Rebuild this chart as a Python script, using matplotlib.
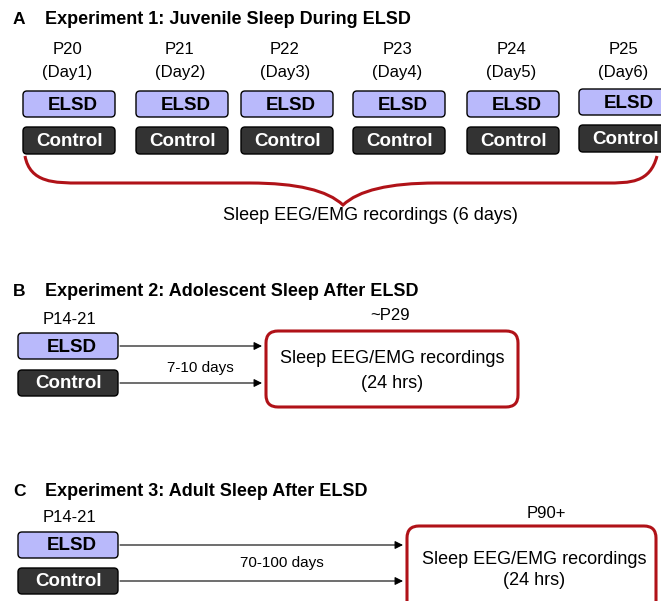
import matplotlib.pyplot as plt
from matplotlib.patches import FancyBboxPatch, PathPatch
from matplotlib.path import Path

plt.rcParams['font.family'] = ['Liberation Sans', 'DejaVu Sans']

# text content
panel_letters = ['A', 'B', 'C']
panel_titles = ['Experiment 1: Juvenile Sleep During ELSD',
                'Experiment 2: Adolescent Sleep After ELSD',
                'Experiment 3: Adult Sleep After ELSD']
exp1_ages = ['P20', 'P21', 'P22', 'P23', 'P24', 'P25']
exp1_days = ['(Day1)', '(Day2)', '(Day3)', '(Day4)', '(Day5)', '(Day6)']
groups = ['ELSD', 'Control']
exp1_note = 'Sleep EEG/EMG recordings (6 days)'
start_age = 'P14-21'
rec_ages = ['~P29', 'P90+']
gaps = ['7-10 days', '70-100 days']
rec_text = 'Sleep EEG/EMG recordings\n(24 hrs)'

ELSD_FILL = '#b9b9fb'
CTRL_FILL = '#333333'
RED = '#b01218'

fig = plt.figure(figsize=(6.61, 6.01), dpi=100)
ax = fig.add_axes([0, 0, 1, 1])
ax.set_xlim(0, 661)
ax.set_ylim(601, 0)
ax.axis('off')


def group_box(x0, y0, w, h, label):
    fill = ELSD_FILL if label == 'ELSD' else CTRL_FILL
    tcol = 'black' if label == 'ELSD' else 'white'
    ax.add_patch(FancyBboxPatch((x0, y0), w, h, boxstyle='round,pad=0,rounding_size=4',
                                fc=fill, ec='black', lw=1.0))
    dx = 4 if label == 'ELSD' else 1
    ax.text(x0 + w / 2 + dx, y0 + h / 2 + 1, label, ha='center', va='center',
            fontsize=13.5, fontweight='bold', color=tcol)


def title(y, i):
    ax.text(13, y, panel_letters[i], fontsize=12.5, fontweight='bold',
            va='center', ha='left')
    ax.text(45, y, panel_titles[i], fontsize=13, fontweight='bold', va='center', ha='left')


# ---- Panel A
title(20, 0)
col_x = [23, 136, 241, 353, 467, 579]
box_w = 92
for i, (age, day) in enumerate(zip(exp1_ages, exp1_days)):
    cx = col_x[i] + box_w / 2 - 2
    ax.text(cx, 50, age, ha='center', va='center', fontsize=12)
    ax.text(cx, 72, day, ha='center', va='center', fontsize=12)
    dy = -2 if i == 5 else 0
    group_box(col_x[i], 91 + dy, box_w, 26, groups[0])
    group_box(col_x[i], 127 + dy, box_w, 27, groups[1])

# curly brace
brace = Path([(25, 156), (30, 183), (55, 183), (80, 183),
              (250, 183), (320, 183), (343, 205),
              (366, 183), (436, 183), (606, 183),
              (630, 183), (650, 183), (657, 156)],
             [Path.MOVETO, Path.CURVE4, Path.CURVE4, Path.CURVE4,
              Path.LINETO, Path.CURVE3, Path.CURVE3,
              Path.CURVE3, Path.CURVE3, Path.LINETO,
              Path.CURVE4, Path.CURVE4, Path.CURVE4])
ax.add_patch(PathPatch(brace, fc='none', ec=RED, lw=2.2))
ax.text(370, 216, exp1_note, ha='center', va='center', fontsize=13)

# ---- Panels B and C
layouts = [
    dict(ty=292, age_y=320, ey=333, cy=370, ax_end=262, gap_x=200, gap_y=368,
         rx=266, ry=331, rw=252, rh=76, rec_cx=392, rec_y=371, rec_age_cx=390,
         rec_age_y=316, ls=1.55),
    dict(ty=491, age_y=518, ey=532, cy=568, ax_end=403, gap_x=282, gap_y=563,
         rx=407, ry=526, rw=249, rh=90, rec_cx=534, rec_y=570, rec_age_cx=546,
         rec_age_y=513, ls=1.35),
]
for k, L in enumerate(layouts):
    title(L['ty'], k + 1)
    ax.text(70, L['age_y'], start_age, ha='center', va='center', fontsize=12)
    group_box(18, L['ey'], 100, 26, groups[0])
    group_box(18, L['cy'], 100, 26, groups[1])
    for yy in (L['ey'] + 13, L['cy'] + 13):
        ax.annotate('', xy=(L['ax_end'], yy), xytext=(120, yy),
                    arrowprops=dict(arrowstyle='-|>', color='black', lw=0.8,
                                    mutation_scale=12, shrinkA=0, shrinkB=0))
    ax.text(L['gap_x'], L['gap_y'], gaps[k], ha='center', va='center', fontsize=11)
    ax.text(L['rec_age_cx'], L['rec_age_y'], rec_ages[k],
            ha='center', va='center', fontsize=12)
    ax.add_patch(FancyBboxPatch((L['rx'], L['ry']), L['rw'], L['rh'],
                                boxstyle='round,pad=0,rounding_size=12',
                                fc='white', ec=RED, lw=2.2))
    ax.text(L['rec_cx'], L['rec_y'], rec_text, ha='center',
            va='center', fontsize=13, linespacing=L['ls'])

fig.savefig('out.png', dpi=100)
